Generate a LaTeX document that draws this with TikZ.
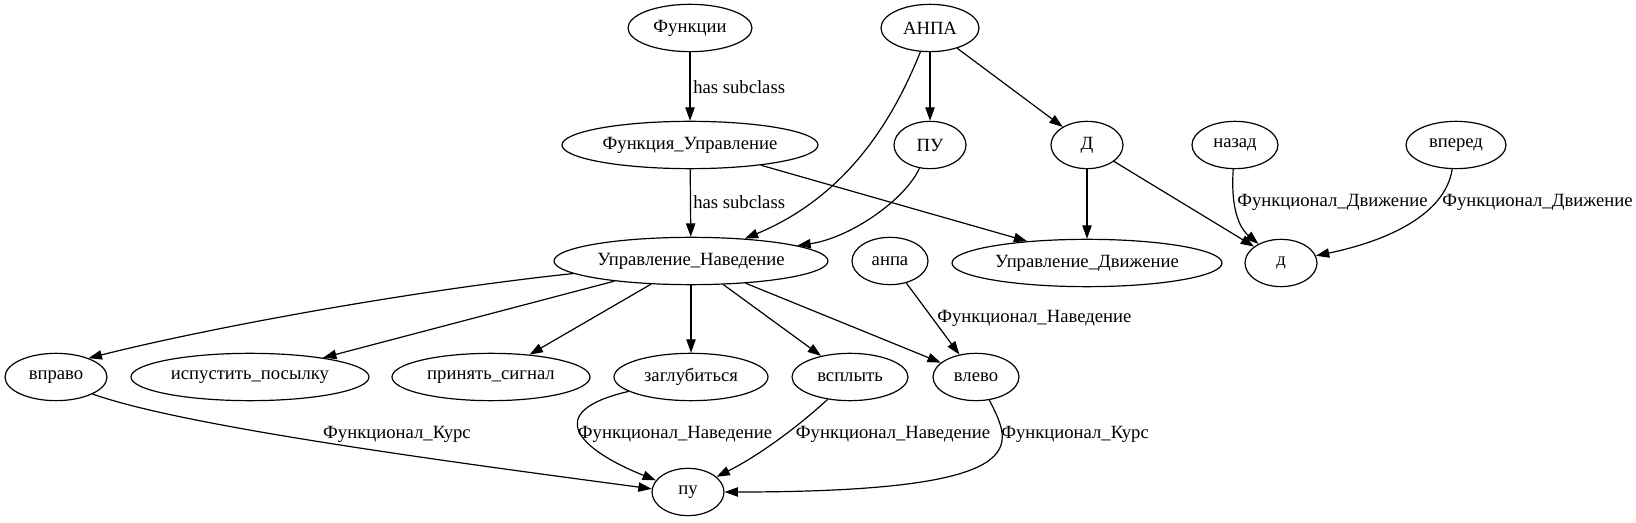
\documentclass[tikz,border=0pt]{standalone}
\usepackage{fontspec}
\setmainfont{Liberation Serif}
\usetikzlibrary{arrows.meta,shapes.geometric}
\begin{document}
\begin{tikzpicture}[x=0.75pt,y=-0.75pt,
  font=\fontsize{14}{16}\selectfont,
  n/.style={draw, ellipse, inner sep=0pt, minimum height=35.5pt, line width=0.9pt},
  lbl/.style={inner sep=0pt, anchor=west},
  edg/.style={-{Triangle[length=10pt,width=7pt]}, line width=0.9pt}]
\useasboundingbox (0,0) rectangle (1636,523);
% nodes
\node[n, minimum width=93pt]    (funk)   at (690,28)  {Функции};
\node[n, minimum width=73.5pt]  (ANPA)   at (930,28)  {АНПА};
\node[n, minimum width=192pt]   (fu)     at (690,145) {Функция\_Управление};
\node[n, minimum width=54pt]    (PU)     at (930,145) {ПУ};
\node[n, minimum width=54pt]    (D)      at (1087,145) {Д};
\node[n, minimum width=64.5pt]  (nazad)  at (1235,145) {назад};
\node[n, minimum width=75pt]    (vpered) at (1456,145) {вперед};
\node[n, minimum width=205.5pt] (un)     at (691,261) {Управление\_Наведение};
\node[n, minimum width=57pt]    (anpa)   at (890,261) {анпа};
\node[n, minimum width=202.5pt] (ud)     at (1087,263) {Управление\_Движение};
\node[n, minimum width=54pt]    (d)      at (1281,263) {д};
\node[n, minimum width=76.5pt]  (vpravo) at (56,377)  {вправо};
\node[n, minimum width=178.5pt] (isp)    at (250,377) {испустить\_посылку};
\node[n, minimum width=148.5pt] (prin)   at (491,377) {принять\_сигнал};
\node[n, minimum width=115.5pt] (zagl)   at (691,377) {заглубиться};
\node[n, minimum width=87pt]    (vspl)   at (850,377) {всплыть};
\node[n, minimum width=64.5pt]  (vlevo)  at (976,377) {влево};
\node[n, minimum width=54pt]    (pu)     at (688,492) {пу};
% labels
\node[lbl] (l1) at (693,87)   {has subclass};
\node[lbl] (l2) at (693,202)  {has subclass};
\node[lbl] (l3) at (1237,202) {Функционал\_Движение};
\node[lbl] (l4) at (1442,202) {Функционал\_Движение};
\node[lbl] (l5) at (937,318)  {Функционал\_Наведение};
\node[inner sep=0pt] (l6) at (397,434) {Функционал\_Курс};
\node[inner sep=0pt] (l7) at (675,434) {Функционал\_Наведение};
\node[inner sep=0pt] (l8) at (893,434) {Функционал\_Наведение};
\node[lbl] (l9) at (1001,434) {Функционал\_Курс};
% edges
\draw[edg] (funk) -- (fu);
\draw[edg] (fu) -- (un);
\draw[edg] (fu) -- (ud.160);
\draw[edg] (ANPA) -- (PU);
\draw[edg] (ANPA) -- (D);
\draw[edg] (ANPA) .. controls (895,115) and (850,195) .. (un);
\draw[edg] (PU) .. controls (905,200) and (850,238) .. (un);
\draw[edg] (D) -- (ud);
\draw[edg] (D) -- (d);
\draw[edg] (nazad) .. controls (1231,200) and (1236,225) .. (d);
\draw[edg] (vpered) .. controls (1445,215) and (1387,241) .. (d);
\draw[edg] (un) .. controls (400,292) and (200,330) .. (vpravo.30);
\draw[edg] (un) -- (isp);
\draw[edg] (un) -- (prin);
\draw[edg] (un) -- (zagl);
\draw[edg] (un) -- (vspl);
\draw[edg] (un) -- (vlevo);
\draw[edg] (anpa) -- (vlevo);
\draw[edg] (vpravo.-25) .. controls (180,425) and (420,458) .. (pu.175);
\draw[edg] (zagl.193) .. controls (540,412) and (580,450) .. (pu.160);
\draw[edg] (vspl.225) .. controls (800,425) and (760,455) .. (pu.28);
\draw[edg] (vlevo.-60) .. controls (1012,445) and (1040,492) .. (pu.0);
\end{tikzpicture}
\end{document}
